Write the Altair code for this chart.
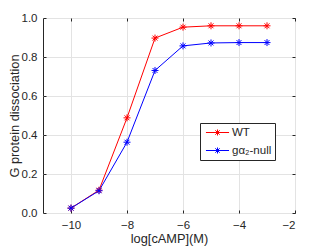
import altair as alt
import pandas as pd

x_vals = [-10, -9, -8, -7, -6, -5, -4, -3]
wt_vals = [0.025, 0.117, 0.488, 0.897, 0.953, 0.960, 0.960, 0.960]
null_vals = [0.025, 0.114, 0.363, 0.731, 0.857, 0.872, 0.874, 0.874]
series_names = ["WT", "g\u03b1\u2082-null"]
series_colors = ["#ff0000", "#0000ff"]
x_ticks = [-10, -8, -6, -4, -2]
y_ticks = [0, 0.2, 0.4, 0.6, 0.8, 1]

rows = []
for i, (name, vals) in enumerate(zip(series_names, [wt_vals, null_vals])):
    for xv, yv in zip(x_vals, vals):
        rows.append({"x": xv, "y": yv, "series": name, "ord": i})
df = pd.DataFrame(rows)

FONT = "Liberation Sans"
TXT = "#262626"
GRID = "#e3e3e3"
STAR = "M-1,0L1,0M0,-1L0,1M-0.7,-0.7L0.7,0.7M-0.7,0.7L0.7,-0.7"
LEG_SYM = ("M-2.1,0L2.1,0M-0.55,0L0.55,0M0,-0.55L0,0.55"
           "M-0.4,-0.4L0.4,0.4M-0.4,0.4L0.4,-0.4")

xscale = alt.Scale(domain=[-11, -2], nice=False, zero=False)
yscale = alt.Scale(domain=[0, 1], nice=False)

x_main = alt.X("x:Q", scale=xscale, axis=alt.Axis(
    orient="bottom", values=x_ticks, offset=-3, tickSize=3, tickColor=TXT,
    domain=False, grid=True, gridColor=GRID, labelPadding=6,
    labelFontSize=11.5, labelFont=FONT, labelColor=TXT,
    title="log[cAMP](M)", titleFont=FONT, titleFontSize=12.8,
    titleFontWeight="normal", titleColor=TXT, titlePadding=2))
y_main = alt.Y("y:Q", scale=yscale, axis=alt.Axis(
    orient="left", values=y_ticks, offset=-3, tickSize=3, tickColor=TXT,
    domain=False, grid=True, gridColor=GRID, labelPadding=6,
    labelFontSize=11.5, labelFont=FONT, labelColor=TXT,
    title="G protein dissociation", titleFont=FONT, titleFontSize=12.8,
    titleFontWeight="normal", titleColor=TXT, titlePadding=0))

legend = alt.Legend(
    title=None, orient="none", legendX=157, legendY=105,
    strokeColor=TXT, fillColor="white", padding=3.5,
    symbolType=LEG_SYM, symbolSize=121, symbolStrokeWidth=1,
    symbolFillColor="transparent", symbolOffset=8, labelOffset=8.5,
    rowPadding=6, labelFont=FONT, labelFontSize=11.5, labelColor=TXT)

color = alt.Color("series:N", scale=alt.Scale(domain=series_names, range=series_colors),
                  legend=legend)

base = alt.Chart(df)
lines = base.mark_line(strokeWidth=1).encode(
    x=x_main, y=y_main, color=color, detail="series:N", order="x:Q")
points = base.mark_point(shape=STAR, size=49, filled=False, strokeWidth=1, opacity=1).encode(
    x=x_main, y=y_main, color=color)

main = alt.layer(lines, points)

x_top = alt.X("x:Q", scale=xscale, axis=alt.Axis(
    orient="top", values=x_ticks, offset=-3, tickSize=3, tickColor=TXT,
    domain=False, grid=False, labels=False, title=None))
y_right = alt.Y("y:Q", scale=yscale, axis=alt.Axis(
    orient="right", values=y_ticks, offset=-3, tickSize=3, tickColor=TXT,
    domain=False, grid=False, labels=False, title=None))
frame = base.mark_point(opacity=0).encode(x=x_top, y=y_right)

chart = alt.layer(main, frame).resolve_axis(x="independent", y="independent").properties(
    width=252, height=195,
    autosize=alt.AutoSizeParams(type="none"),
    padding={"left": 35, "top": 10, "right": 24, "bottom": 40},
    background="white",
).configure_view(stroke=TXT, strokeWidth=1)

chart.save("out.html", embed_options={"renderer": "svg", "actions": False})
